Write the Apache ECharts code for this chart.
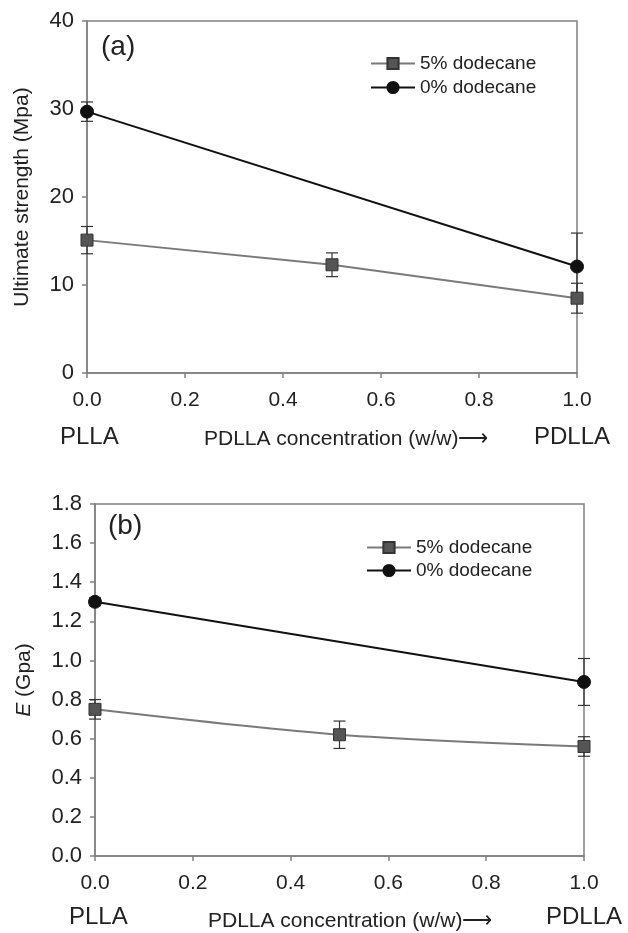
<!DOCTYPE html>
<html lang="en">

<head>
    <meta charset="utf-8" />
    <title>Ultimate strength and modulus vs PDLLA concentration</title>
    <script src="https://cdn.jsdelivr.net/npm/echarts@6/dist/echarts.min.js"></script>
    <style>
        html, body { margin: 0; padding: 0; background: #fff; }
        #chart { width: 628px; height: 933px; }
    </style>
</head>

<body>
    <div id="chart"></div>
    <script>
        // PDLLA fraction (w/w)
        var conc5 = [0, 0.5, 1.0];
        var conc0 = [0, 1.0];

        // (a) ultimate strength, MPa
        var strength5 = [15.1, 12.3, 8.5];
        var strength5Err = [1.55, 1.35, 1.7];
        var strength0 = [29.7, 12.1];
        var strength0Err = [1.1, 3.8];

        // (b) modulus E, GPa
        var modulus5 = [0.75, 0.62, 0.56];
        var modulus5Err = [0.05, 0.07, 0.05];
        var modulus0 = [1.30, 0.89];
        var modulus0Err = [0.02, 0.12];

        var FONT = "'Liberation Sans', Arial, sans-serif";
        var FRAME = '#808080';

        function pairs(xs, ys) {
            return xs.map(function (x, i) { return [x, ys[i]]; });
        }
        function triples(xs, ys, es) {
            return xs.map(function (x, i) { return [x, ys[i], es[i]]; });
        }

        // vertical whisker with caps
        function errorBar(params, api) {
            var x = api.value(0), y = api.value(1), e = api.value(2);
            var hi = api.coord([x, y + e]);
            var lo = api.coord([x, y - e]);
            var w = 6;
            var st = { stroke: '#333', lineWidth: 1.2 };
            return {
                type: 'group',
                children: [
                    { type: 'line', shape: { x1: hi[0], y1: hi[1], x2: lo[0], y2: lo[1] }, style: st },
                    { type: 'line', shape: { x1: hi[0] - w, y1: hi[1], x2: hi[0] + w, y2: hi[1] }, style: st },
                    { type: 'line', shape: { x1: lo[0] - w, y1: lo[1], x2: lo[0] + w, y2: lo[1] }, style: st }
                ]
            };
        }

        function xAxisFor(idx) {
            return {
                type: 'value', gridIndex: idx, min: 0, max: 1, interval: 0.2,
                axisLine: { onZero: false, lineStyle: { color: FRAME, width: 1.5 } },
                axisTick: { show: true, length: 5, lineStyle: { color: FRAME, width: 1.5 } },
                axisLabel: {
                    margin: 17, color: '#222', fontSize: 21, fontFamily: FONT,
                    formatter: function (v) { return v.toFixed(1); }
                },
                splitLine: { show: false }
            };
        }

        function yAxisFor(idx, max, step, name, gap, digits) {
            return {
                type: 'value', gridIndex: idx, min: 0, max: max, interval: step,
                name: name, nameLocation: 'middle', nameGap: gap,
                nameTextStyle: {
                    color: '#222', fontSize: 21, fontFamily: FONT,
                    rich: { i: { fontStyle: 'italic', fontSize: 21, fontFamily: FONT, color: '#222' } }
                },
                axisLine: { lineStyle: { color: FRAME, width: 1.5 } },
                axisTick: { show: true, length: 5, lineStyle: { color: FRAME, width: 1.5 } },
                axisLabel: {
                    margin: 13, color: '#222', fontSize: 22, fontFamily: FONT,
                    formatter: function (v) { return v.toFixed(digits); }
                },
                splitLine: { show: false }
            };
        }

        function lineSeries(name, idx, data, black, smooth) {
            return {
                name: name, type: 'line', xAxisIndex: idx, yAxisIndex: idx,
                data: data, smooth: smooth, z: 3,
                symbol: black ? 'circle' : 'rect',
                symbolSize: black ? 13 : 12,
                lineStyle: { color: black ? '#111' : '#7a7a7a', width: 2 },
                itemStyle: {
                    color: black ? '#111' : '#555',
                    borderColor: black ? '#111' : '#333', borderWidth: 1
                },
                emphasis: { disabled: true }
            };
        }

        function errSeries(idx, data) {
            return {
                type: 'custom', xAxisIndex: idx, yAxisIndex: idx, z: 2,
                renderItem: errorBar, data: data, silent: true
            };
        }

        function legendFor(left, top, gap) {
            return {
                left: left, top: top, orient: 'vertical', padding: 0,
                itemWidth: 44, itemHeight: 14, itemGap: gap,
                data: ['5% dodecane', '0% dodecane'],
                textStyle: { fontSize: 19, fontFamily: FONT, color: '#222' },
                selectedMode: false
            };
        }

        function label(text, x, y, size) {
            return {
                type: 'text', left: x, top: y,
                style: { text: text, fontSize: size, fontFamily: FONT, fill: '#222' }
            };
        }

        var chart = echarts.init(document.getElementById('chart'));

        var option = {
            backgroundColor: '#fff',
            animation: false,
            grid: [
                { left: 87, top: 21, width: 490, height: 352, show: true, borderColor: FRAME, borderWidth: 1.5, containLabel: false },
                { left: 95, top: 504, width: 489, height: 352, show: true, borderColor: FRAME, borderWidth: 1.5, containLabel: false }
            ],
            xAxis: [xAxisFor(0), xAxisFor(1)],
            yAxis: [
                yAxisFor(0, 40, 10, 'Ultimate strength (Mpa)', 54, 0),
                yAxisFor(1, 1.8, 0.2, '{i|E} (Gpa)', 60, 1)
            ],
            legend: [legendFor(370, 54, 5), legendFor(366, 538, 4)],
            graphic: [
                label('(a)', 101, 33, 28),
                label('(b)', 108, 512, 28),
                label('PLLA', 60, 425, 24),
                label('PDLLA concentration (w/w)\u27F6', 204, 429, 21),
                label('PDLLA', 534, 425, 24),
                label('PLLA', 69, 905, 24),
                label('PDLLA concentration (w/w)\u27F6', 208, 911, 21),
                label('PDLLA', 546, 905, 24)
            ],
            series: [
                errSeries(0, triples(conc5, strength5, strength5Err)),
                errSeries(0, triples(conc0, strength0, strength0Err)),
                lineSeries('5% dodecane', 0, pairs(conc5, strength5), false, false),
                lineSeries('0% dodecane', 0, pairs(conc0, strength0), true, false),
                errSeries(1, triples(conc5, modulus5, modulus5Err)),
                errSeries(1, triples(conc0, modulus0, modulus0Err)),
                lineSeries('5% dodecane', 1, pairs(conc5, modulus5), false, 0.3),
                lineSeries('0% dodecane', 1, pairs(conc0, modulus0), true, false)
            ]
        };
        chart.setOption(option);
    </script>
</body>

</html>
